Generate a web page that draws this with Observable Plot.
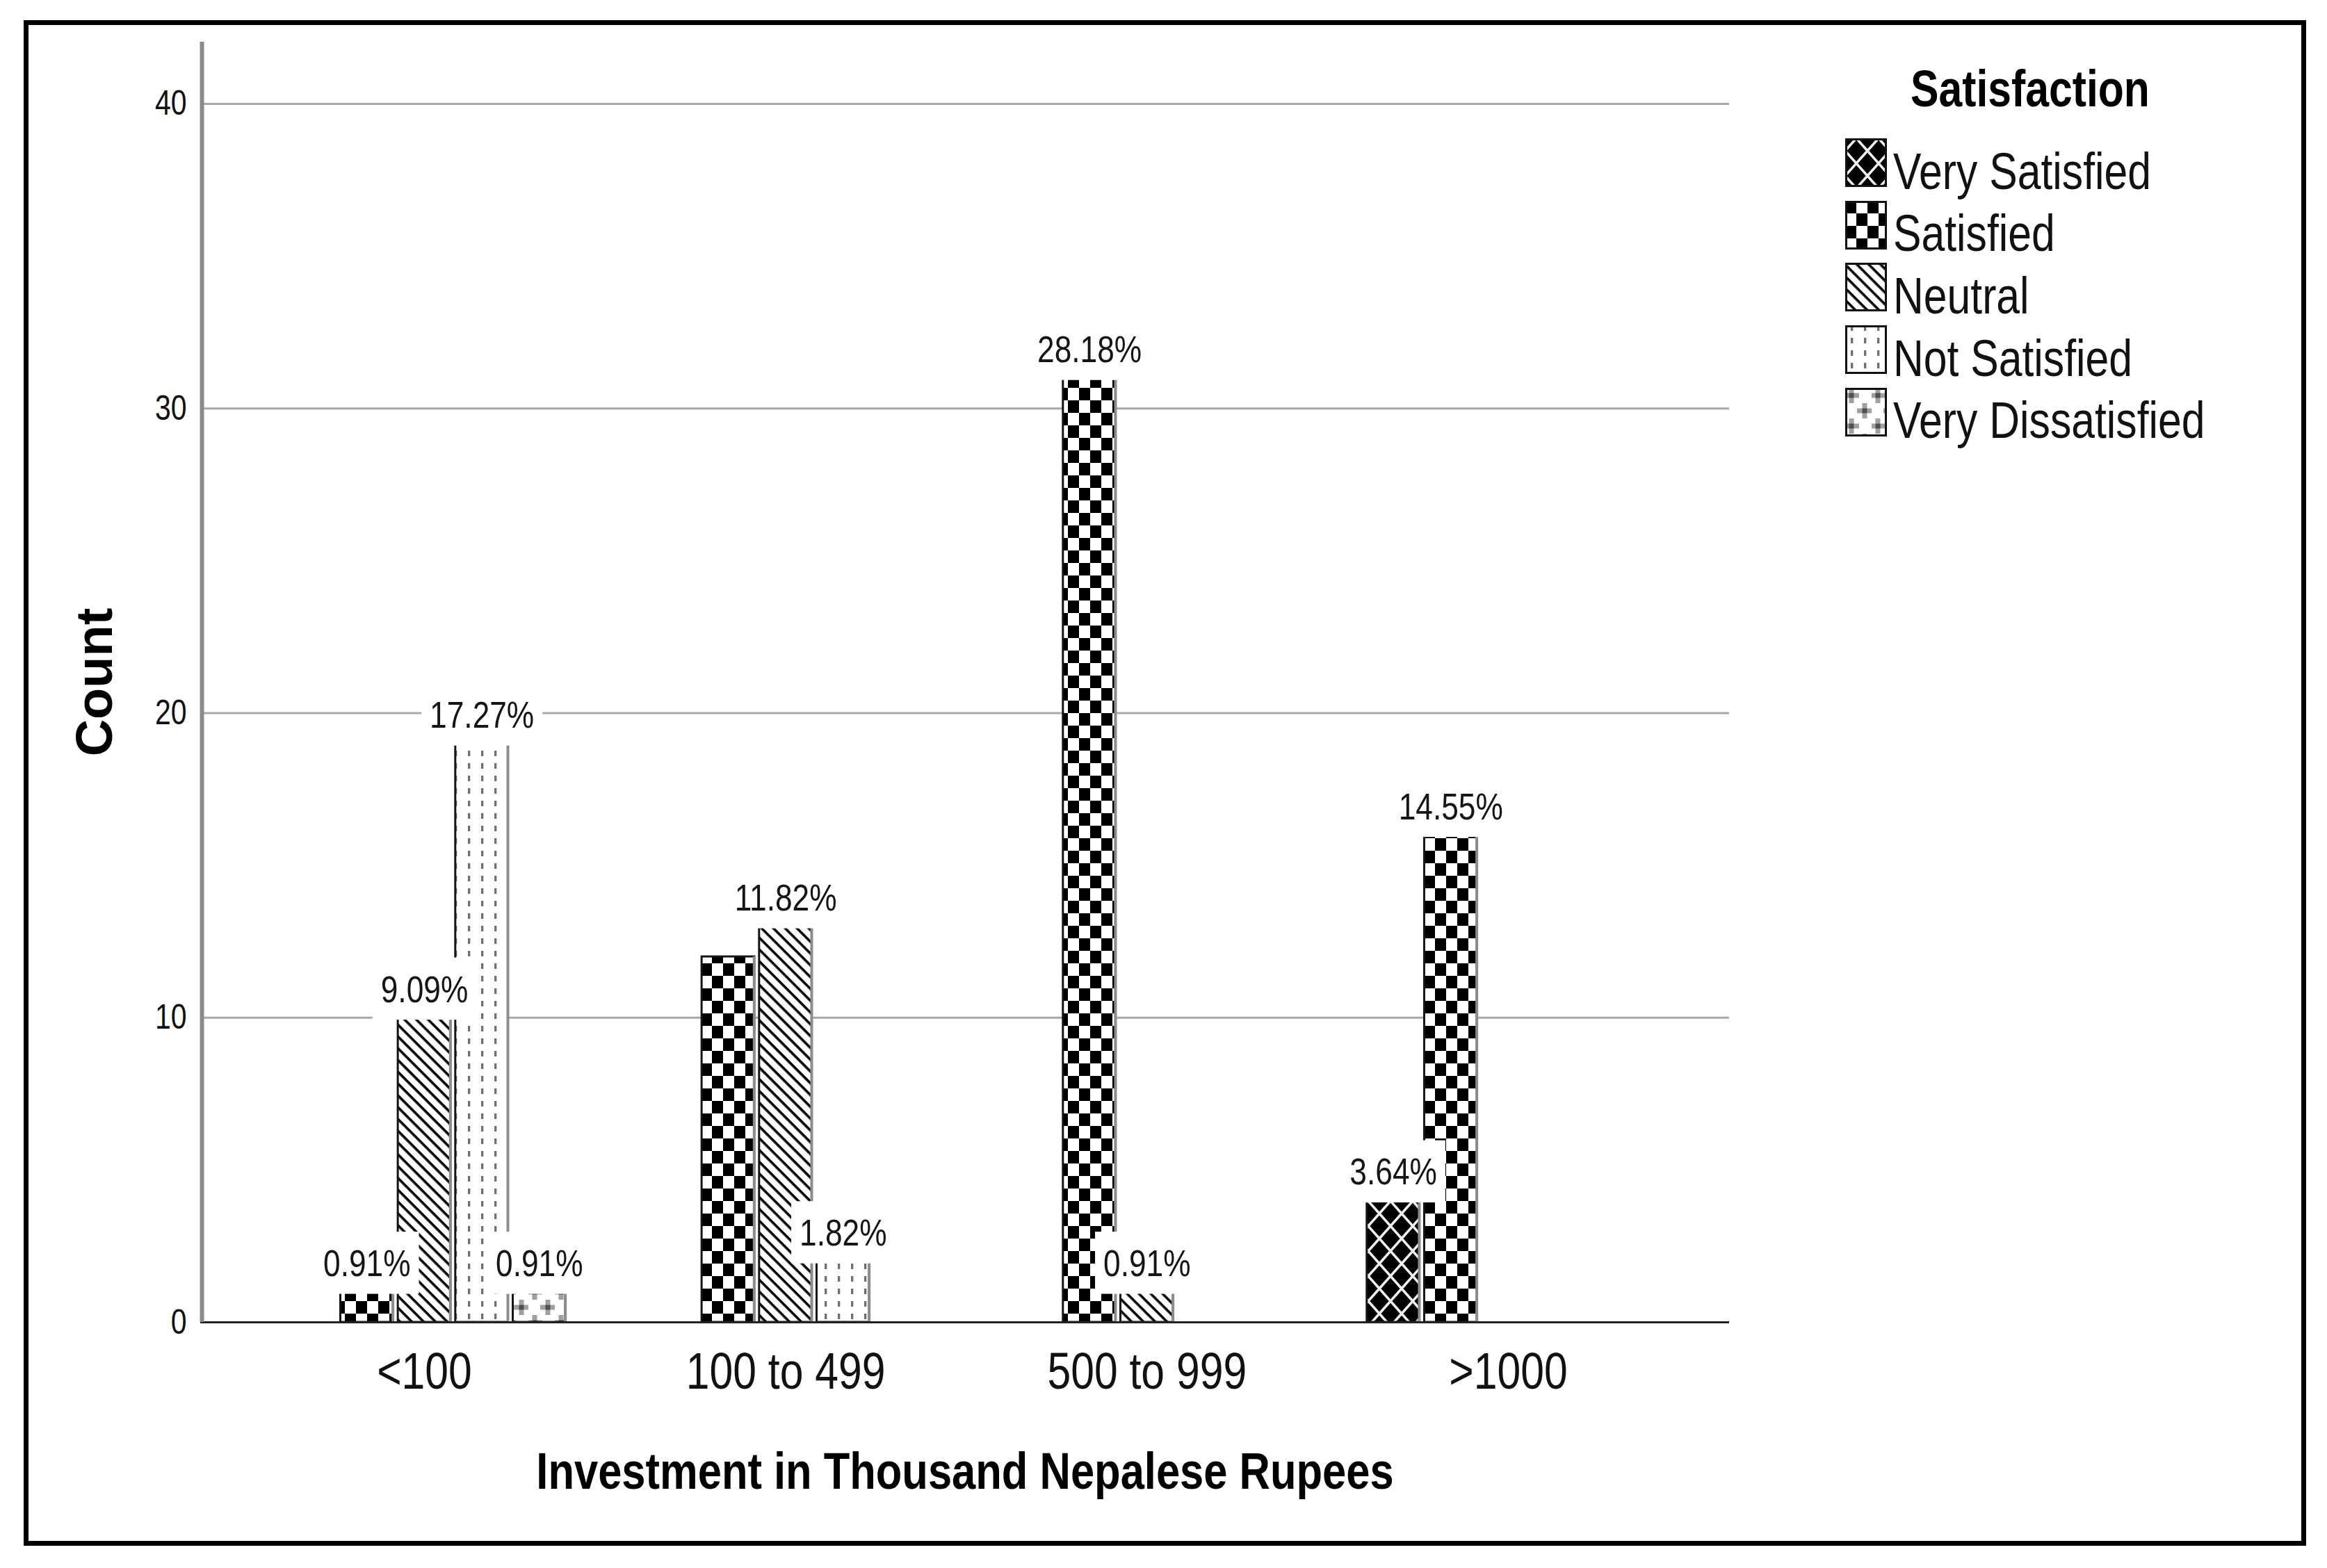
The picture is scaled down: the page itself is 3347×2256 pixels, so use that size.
<!DOCTYPE html>
<html>
<head>
<meta charset="utf-8">
<script src="https://cdn.jsdelivr.net/npm/d3@7"></script>
<script src="https://cdn.jsdelivr.net/npm/@observablehq/plot@0.6"></script>
<style>
  html, body { margin: 0; padding: 0; background: #fff; }
  body { width: 3347px; height: 2256px; position: relative; overflow: hidden; }
  #frame { position: absolute; left: 34px; top: 29px; width: 3283px; height: 2195px; border: 7px solid #000; box-sizing: border-box; pointer-events: none; }
  #chart { position: absolute; left: 0; top: 0; }
  .lg { position: absolute; color: #111; white-space: nowrap; line-height: 1; }
</style>
</head>
<body>
<div id="chart"></div>
<div id="legend"></div>
<div id="frame"></div>
<script>
// ---------- data ----------
const categories = ["<100", "100 to 499", "500 to 999", ">1000"];
const levels = ["Very Satisfied", "Satisfied", "Neutral", "Not Satisfied", "Very Dissatisfied"];
const countVerySatisfied    = [0, 0, 0, 4];
const countSatisfied        = [1, 12, 31, 16];
const countNeutral          = [10, 13, 1, 0];
const countNotSatisfied     = [19, 2, 0, 0];
const countVeryDissatisfied = [1, 0, 0, 0];
const pctVerySatisfied    = [null, null, null, "3.64%"];
const pctSatisfied        = ["0.91%", null, "28.18%", "14.55%"];
const pctNeutral          = ["9.09%", "11.82%", "0.91%", null];
const pctNotSatisfied     = ["17.27%", "1.82%", null, null];
const pctVeryDissatisfied = ["0.91%", null, null, null];
const yTicks = [0, 10, 20, 30, 40];
const xTitle = "Investment in Thousand Nepalese Rupees";
const yTitle = "Count";
const legendTitle = "Satisfaction";

// ---------- font ----------
function hasFont(name) {
  const c = document.createElement("canvas").getContext("2d");
  const s = "abcdefghijklmnopqrstuvwxyz0123456789ABCDEFG";
  c.font = "40px monospace"; const a = c.measureText(s).width;
  c.font = `40px "${name}", monospace`; const b = c.measureText(s).width;
  return Math.abs(a - b) > 0.5;
}
const NARROW = hasFont("Liberation Sans Narrow");
const FONT = NARROW ? '"Liberation Sans Narrow", "Liberation Sans", Arial, sans-serif' : '"Liberation Sans", Arial, sans-serif';
const K = NARROW ? 1 : 0.82;       // width factor
const S = NARROW ? 1 : 1.22;       // vertical stretch for glyphs

// ---------- table ----------
const countsByLevel = [countVerySatisfied, countSatisfied, countNeutral, countNotSatisfied, countVeryDissatisfied];
const pctByLevel = [pctVerySatisfied, pctSatisfied, pctNeutral, pctNotSatisfied, pctVeryDissatisfied];
const BAR = 0.1591; // width of one bar slot, in category units
const table = [];
categories.forEach((cat, i) => {
  levels.forEach((lev, j) => {
    table.push({
      cat, level: lev, ci: i, li: j,
      count: countsByLevel[j][i],
      label: pctByLevel[j][i],
      x1: i + (j - 2.5) * BAR,
      x2: i + (j - 1.5) * BAR,
      xm: i + (j - 2) * BAR
    });
  });
});
const xDomain = [-0.6196, 3.612];

// ---------- patterns ----------
function patternDefs(p) {
  return `
  <pattern id="${p}0" patternUnits="userSpaceOnUse" width="32" height="36">
    <rect width="32" height="36" fill="#000"/>
    <path d="M0,18 L16,0 L32,18 L16,36 Z" fill="none" stroke="#f0f0f0" stroke-width="3.5"/>
    <circle cx="16" cy="18" r="7" fill="#000"/>
  </pattern>
  <pattern id="${p}1" patternUnits="userSpaceOnUse" width="32" height="36">
    <rect width="32" height="36" fill="#fff"/>
    <rect x="0" y="0" width="16" height="18" fill="#000"/>
    <rect x="16" y="18" width="16" height="18" fill="#000"/>
  </pattern>
  <pattern id="${p}2" patternUnits="userSpaceOnUse" width="12" height="12" patternTransform="rotate(45)">
    <rect width="12" height="12" fill="#fff"/>
    <rect x="0" y="0" width="12" height="3.6" fill="#000"/>
  </pattern>
  <pattern id="${p}3" patternUnits="userSpaceOnUse" width="19" height="18">
    <rect width="19" height="18" fill="#fff"/>
    <rect x="8" y="0" width="3.3" height="8" fill="#707070"/>
  </pattern>
  <pattern id="${p}4" patternUnits="userSpaceOnUse" width="38" height="44">
    <rect width="38" height="44" fill="#fff"/>
    <rect x="-2" y="7.5" width="22" height="7" fill="#a0a0a0"/>
    <rect x="5.5" y="0" width="7" height="22" fill="#a0a0a0"/>
    <rect x="5.5" y="7.5" width="7" height="7" fill="#505050"/>
    <rect x="17" y="29.5" width="22" height="7" fill="#a0a0a0"/>
    <rect x="24.5" y="22" width="7" height="22" fill="#a0a0a0"/>
    <rect x="24.5" y="29.5" width="7" height="7" fill="#505050"/>
  </pattern>`;
}

// ---------- chart ----------
const pctFont = 54 * K;
const chart = Plot.plot({
  width: 2560,
  height: 2256,
  marginLeft: 288,
  marginRight: 73,
  marginTop: 60,
  marginBottom: 354,
  x: {domain: xDomain},
  y: {domain: [0, 42.03]},
  style: {fontFamily: FONT, color: "#111", background: "transparent", overflow: "visible"},
  marks: [
    Plot.gridY(yTicks.filter(v => v > 0), {stroke: "#a8a8a8", strokeOpacity: 1, strokeWidth: 3}),
    ...levels.map((lev, j) => Plot.rect(table.filter(d => d.li === j && d.count > 0), {
      x1: "x1", x2: "x2", y1: 0, y2: "count",
      insetLeft: 3.5, insetRight: 3.5,
      fill: `url(#pat${j})`, stroke: "#151515", strokeWidth: 3
    })),
    Plot.ruleX(table.filter(d => d.count > 0), {x: "x2", y1: 0, y2: "count", dx: -4, stroke: "#8c8c8c", strokeWidth: 4}),
    Plot.text(table.filter(d => d.label), {
      x: "xm", y: "count", text: "label", dy: -40,
      fontSize: pctFont, fill: "#151515",
      style: "letter-spacing:3px"
    }),
    Plot.ruleY([0], {stroke: "#222", strokeWidth: 3}),
    Plot.ruleX([xDomain[0]], {stroke: "#8a8a8a", strokeWidth: 6, dx: 2}),
    Plot.axisY(yTicks, {tickSize: 0, tickPadding: 20, label: null, fontSize: 50 * K}),
    Plot.axisX([0, 1, 2, 3], {
      tickFormat: i => categories[i], tickSize: 0,
      tickPadding: 70 - 0.36 * 74 * K * S, label: null, fontSize: 74 * K
    }),
    Plot.text([yTitle], {text: d => d, frameAnchor: "left", textAnchor: "middle", lineAnchor: "middle", dx: -151, rotate: -90, fontSize: 74 * (NARROW ? 0.85 : 1), fontWeight: "bold", fill: "#000", ariaDescription: "ytitle"}),
    Plot.text([xTitle], {text: d => d, frameAnchor: "bottom", textAnchor: "middle", lineAnchor: "middle", dy: 215, fontSize: 75 * K, fontWeight: "bold", fill: "#000"})
  ]
});

// defs
const tmp = document.createElementNS("http://www.w3.org/2000/svg", "svg");
tmp.innerHTML = `<defs>${patternDefs("pat")}</defs>`;
chart.insertBefore(tmp.firstChild, chart.firstChild);
document.getElementById("chart").appendChild(chart);

// vertical glyph stretch (emulates the condensed lettering of the original)
for (const t of Array.from(chart.querySelectorAll("text"))) {
  if (t.textContent.trim() === yTitle) continue;
  const tr = t.getAttribute("transform") || "";
  t.setAttribute("transform", (tr + ` scale(1,${S})`).trim());
}

// white boxes behind percentage labels
for (const t of Array.from(chart.querySelectorAll("text"))) {
  if (!/%$/.test(t.textContent.trim())) continue;
  const bb = t.getBBox();
  const r = document.createElementNS("http://www.w3.org/2000/svg", "rect");
  r.setAttribute("x", bb.x - 12);
  r.setAttribute("y", bb.y - 12);
  r.setAttribute("width", bb.width + 24);
  r.setAttribute("height", bb.height + 24);
  r.setAttribute("fill", "#fff");
  r.setAttribute("stroke", "none");
  const tr = t.getAttribute("transform");
  if (tr) r.setAttribute("transform", tr);
  t.parentNode.insertBefore(r, t);
}

// ---------- legend ----------
const legend = document.getElementById("legend");
const titleF = 74 * K;
const itemF = 74 * K;
const tdiv = document.createElement("div");
tdiv.className = "lg";
tdiv.textContent = legendTitle;
tdiv.style.cssText = `left:${2920 - 300}px;width:600px;text-align:center;top:${122 - 0.5 * titleF}px;font:bold ${titleF}px ${FONT};color:#000;transform:scale(1,${S});transform-origin:50% 50%;`;
legend.appendChild(tdiv);
levels.forEach((lev, j) => {
  const cy = 241 + 89.7 * j;
  const sw = document.createElement("div");
  sw.className = "lg";
  sw.style.cssText = `left:2654px;top:${cy - 7 - 35}px;width:60px;height:70px;`;
  sw.innerHTML = `<svg width="60" height="70" style="display:block"><defs>${patternDefs("lg" + j + "_")}</defs>
    <rect x="1.5" y="1.5" width="57" height="67" fill="url(#lg${j}_${j})" stroke="#111" stroke-width="3"/></svg>`;
  legend.appendChild(sw);
  const tx = document.createElement("div");
  tx.className = "lg";
  tx.textContent = lev;
  tx.style.cssText = `left:2723px;top:${cy - 0.5 * itemF}px;font:${itemF}px ${FONT};transform:scale(1,${S});transform-origin:0 50%;`;
  legend.appendChild(tx);
});
</script>
</body>
</html>
